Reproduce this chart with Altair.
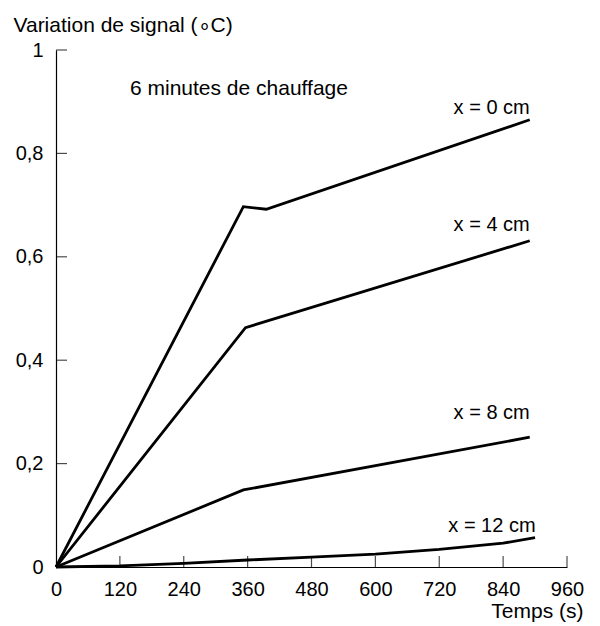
import altair as alt
import pandas as pd

FONT = "Liberation Sans"
FS = 20

# ---- data ----
series_names = ["x = 0 cm", "x = 4 cm", "x = 8 cm", "x = 12 cm"]
t_x0 = [0, 352, 395, 890]
v_x0 = [0, 0.697, 0.692, 0.865]
t_x4 = [0, 356, 890]
v_x4 = [0, 0.463, 0.631]
t_x8 = [0, 352, 890]
v_x8 = [0, 0.149, 0.251]
t_x12 = [0, 120, 240, 360, 480, 600, 720, 840, 900]
v_x12 = [0, 0.002, 0.007, 0.0135, 0.019, 0.025, 0.034, 0.046, 0.057]

label_t = [890, 890, 890, 901]
label_v = [0.887, 0.661, 0.298, 0.080]

note_text = ["6 minutes de chauffage"]
note_t = [139]
note_v = [0.925]

x_tick_values = [120, 240, 360, 480, 600, 720, 840, 960]
y_tick_values = [0.2, 0.4, 0.6, 0.8, 1.0]
x_label_values = [0, 120, 240, 360, 480, 600, 720, 840, 960]
y_label_values = [0, 0.2, 0.4, 0.6, 0.8, 1.0]

# ---- tables ----
rows = []
for name, ts, vs in zip(series_names, [t_x0, t_x4, t_x8, t_x12], [v_x0, v_x4, v_x8, v_x12]):
    for i, (t, v) in enumerate(zip(ts, vs)):
        rows.append({"serie": name, "t": t, "v": v, "i": i})
lines_df = pd.DataFrame(rows)
labels_df = pd.DataFrame({"txt": series_names, "t": label_t, "v": label_v})
note_df = pd.DataFrame({"txt": note_text, "t": note_t, "v": note_v})
xt_df = pd.DataFrame({"t": x_tick_values, "v": [0] * len(x_tick_values)})
yt_df = pd.DataFrame({"t": [0] * len(y_tick_values), "v": y_tick_values})

xscale = alt.Scale(domain=[0, 960], nice=False, zero=False)
yscale = alt.Scale(domain=[0, 1], nice=False)

xaxis = alt.Axis(
    values=x_label_values, grid=False, ticks=False, tickSize=0,
    domainColor="black", domainWidth=1.2,
    labelFont=FONT, labelFontSize=FS, labelColor="black", labelPadding=12,
    labelFlush=False, labelOverlap=False,
    title="Temps (s)", titleFont=FONT, titleFontSize=21, titleFontWeight="normal",
    titleColor="black", titleAlign="right", titleAnchor="end", titleBaseline="alphabetic",
    titleX=527, titleY=50,
)
yaxis = alt.Axis(
    values=y_label_values, grid=False, ticks=False, tickSize=0,
    domainColor="black", domainWidth=1.2,
    labelFont=FONT, labelFontSize=FS, labelColor="black", labelPadding=13,
    labelFlush=False, labelOverlap=False,
    labelExpr="replace(format(datum.value, '.1~f'), '.', ',')",
    title="Variation de signal (\u2218C)", titleFont=FONT, titleFontSize=21,
    titleFontWeight="normal", titleColor="black", titleAngle=0, titleAlign="left",
    titleBaseline="alphabetic", titleX=-43, titleY=-19,
)

X = alt.X("t:Q", scale=xscale, axis=xaxis)
Y = alt.Y("v:Q", scale=yscale, axis=yaxis)

lines = alt.Chart(lines_df).mark_line(color="black", strokeWidth=2.8, strokeJoin="miter").encode(
    x=X, y=Y, detail="serie:N", order="i:Q",
)

labels = alt.Chart(labels_df).mark_text(
    align="right", baseline="middle", font=FONT, fontSize=FS, color="black"
).encode(x=X, y=Y, text="txt:N")

note = alt.Chart(note_df).mark_text(
    align="left", baseline="middle", font=FONT, fontSize=21, color="black"
).encode(x=X, y=Y, text="txt:N")

xticks = alt.Chart(xt_df).mark_tick(
    orient="vertical", size=11, thickness=1.2, color="black", yOffset=-5.5
).encode(x=X, y=Y)

yticks = alt.Chart(yt_df).mark_tick(
    orient="horizontal", size=11, thickness=1.2, color="black", xOffset=5.5
).encode(x=X, y=Y)

chart = alt.layer(lines, xticks, yticks, labels, note).properties(
    width=511, height=517,
    autosize=alt.AutoSizeParams(type="none"),
    padding={"left": 56, "top": 50, "right": 33, "bottom": 59},
    background="white",
).configure_view(stroke=None)

chart.save("out.html", embed_options={"renderer": "svg", "actions": False})
